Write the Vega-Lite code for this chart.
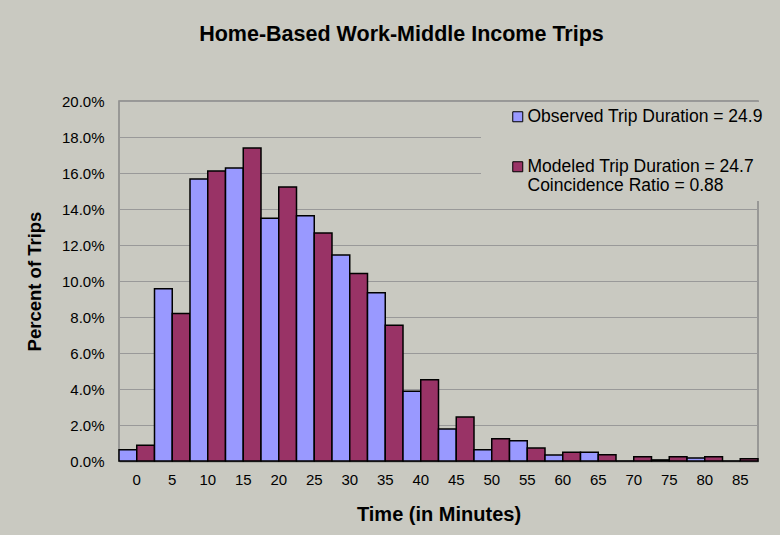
{
  "$schema": "https://vega.github.io/schema/vega-lite/v6.json",
  "width": 639,
  "height": 360,
  "autosize": {"type": "none"},
  "padding": {"left": 119, "top": 101, "right": 22, "bottom": 74},
  "background": "#C9C9C1",
  "title": {
    "text": "Home-Based Work-Middle Income Trips",
    "font": "Liberation Sans",
    "fontSize": 21.5,
    "fontWeight": "bold",
    "color": "#000000",
    "anchor": "middle",
    "offset": 49,
    "dx": -37
  },
  "config": {
    "view": {"stroke": "#888888", "strokeWidth": 1.5},
    "font": "Liberation Sans"
  },
  "data": {
    "values": [
      {"time": "0", "series": "Observed", "pct": 0.0063},
      {"time": "0", "series": "Modeled", "pct": 0.0087},
      {"time": "5", "series": "Observed", "pct": 0.0957},
      {"time": "5", "series": "Modeled", "pct": 0.082},
      {"time": "10", "series": "Observed", "pct": 0.1567},
      {"time": "10", "series": "Modeled", "pct": 0.1611},
      {"time": "15", "series": "Observed", "pct": 0.1628},
      {"time": "15", "series": "Modeled", "pct": 0.1739},
      {"time": "20", "series": "Observed", "pct": 0.1348},
      {"time": "20", "series": "Modeled", "pct": 0.1522},
      {"time": "25", "series": "Observed", "pct": 0.1363},
      {"time": "25", "series": "Modeled", "pct": 0.1267},
      {"time": "30", "series": "Observed", "pct": 0.1144},
      {"time": "30", "series": "Modeled", "pct": 0.1041},
      {"time": "35", "series": "Observed", "pct": 0.0935},
      {"time": "35", "series": "Modeled", "pct": 0.0754},
      {"time": "40", "series": "Observed", "pct": 0.0387},
      {"time": "40", "series": "Modeled", "pct": 0.0452},
      {"time": "45", "series": "Observed", "pct": 0.0178},
      {"time": "45", "series": "Modeled", "pct": 0.0244},
      {"time": "50", "series": "Observed", "pct": 0.0063},
      {"time": "50", "series": "Modeled", "pct": 0.0124},
      {"time": "55", "series": "Observed", "pct": 0.0113},
      {"time": "55", "series": "Modeled", "pct": 0.0072},
      {"time": "60", "series": "Observed", "pct": 0.0033},
      {"time": "60", "series": "Modeled", "pct": 0.0048},
      {"time": "65", "series": "Observed", "pct": 0.0048},
      {"time": "65", "series": "Modeled", "pct": 0.0035},
      {"time": "70", "series": "Observed", "pct": 0.0},
      {"time": "70", "series": "Modeled", "pct": 0.0024},
      {"time": "75", "series": "Observed", "pct": 0.0006},
      {"time": "75", "series": "Modeled", "pct": 0.0024},
      {"time": "80", "series": "Observed", "pct": 0.0017},
      {"time": "80", "series": "Modeled", "pct": 0.0024},
      {"time": "85", "series": "Observed", "pct": 0.0},
      {"time": "85", "series": "Modeled", "pct": 0.0013}
    ]
  },
  "mark": {"type": "bar", "stroke": "#000000", "strokeWidth": 1.5},
  "encoding": {
    "x": {
      "field": "time",
      "type": "ordinal",
      "sort": null,
      "scale": {"paddingInner": 0, "paddingOuter": 0},
      "axis": {
        "title": "Time (in Minutes)",
        "titleFont": "Liberation Sans",
        "titleFontSize": 20,
        "titleFontWeight": "bold",
        "titleColor": "#000000",
        "titlePadding": 17,
        "labelAngle": 0,
        "labelFontSize": 15,
        "labelColor": "#000000",
        "labelPadding": 11,
        "ticks": false,
        "domainColor": "#555555",
        "domainWidth": 1.5,
        "grid": false
      }
    },
    "xOffset": {
      "field": "series",
      "sort": ["Observed", "Modeled"],
      "scale": {"paddingInner": 0, "paddingOuter": 0}
    },
    "y": {
      "field": "pct",
      "type": "quantitative",
      "scale": {"domain": [0, 0.2], "nice": false},
      "axis": {
        "title": "Percent of Trips",
        "titleFont": "Liberation Sans",
        "titleFontSize": 18.5,
        "titleFontWeight": "bold",
        "titleColor": "#000000",
        "titlePadding": 17,
        "format": ".1%",
        "values": [0, 0.02, 0.04, 0.06, 0.08, 0.1, 0.12, 0.14, 0.16, 0.18, 0.2],
        "labelFontSize": 15,
        "labelColor": "#000000",
        "labelPadding": 15,
        "ticks": false,
        "domain": false,
        "gridColor": "#999999",
        "gridWidth": 1
      }
    },
    "color": {
      "field": "series",
      "type": "nominal",
      "scale": {"domain": ["Observed", "Modeled"], "range": ["#9999FF", "#993366"]},
      "legend": {
        "title": null,
        "orient": "none",
        "legendX": 362,
        "legendY": 1,
        "padding": 6,
        "symbolOffset": 22,
        "fillColor": "#C9C9C1",
        "strokeColor": null,
        "symbolType": "square",
        "symbolSize": 100,
        "symbolStrokeColor": "#000000",
        "symbolStrokeWidth": 1,
        "symbolOpacity": 1,
        "labelFontSize": 17.5,
        "labelColor": "#000000",
        "labelLimit": 400,
        "labelOffset": 1,
        "labelBaseline": "top",
        "rowPadding": 31,
        "labelExpr": "datum.label == 'Observed' ? 'Observed Trip Duration = 24.9' : ['Modeled Trip Duration = 24.7', 'Coincidence Ratio = 0.88']",
        "encode": {"labels": {"update": {"dy": {"value": -9}}}}
      }
    }
  }
}
